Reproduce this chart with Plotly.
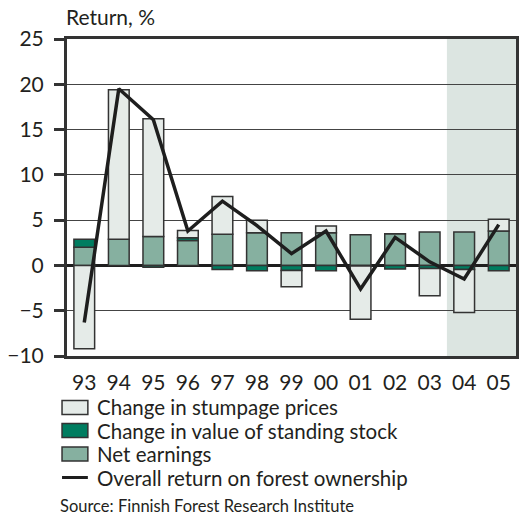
import plotly.graph_objects as go

# data (percent)
years = ["93", "94", "95", "96", "97", "98", "99", "00", "01", "02", "03", "04", "05"]
net_earnings = [2.0, 2.9, 3.2, 2.75, 3.45, 3.6, 3.6, 3.6, 3.4, 3.5, 3.7, 3.7, 3.8]
standing_stock = [0.9, 0.0, -0.2, 0.3, -0.45, -0.6, -0.55, -0.6, -0.05, -0.4, -0.35, -0.45, -0.6]
stumpage = [-9.2, 16.5, 13.0, 0.8, 4.15, 1.4, -1.8, 0.75, -5.9, 0.0, -3.0, -4.75, 1.3]
overall = [-6.3, 19.5, 16.1, 3.8, 7.1, 4.4, 1.3, 3.8, -2.6, 3.1, 0.4, -1.5, 4.5]

legend_labels = [
    "Change in stumpage prices",
    "Change in value of standing stock",
    "Net earnings",
    "Overall return on forest ownership",
]

C_STUMP = "#e5ebe8"
C_STOCK = "#007d60"
C_NET = "#86b0a0"
C_EDGE = "#333333"
FONT = "Lato"

W, H = 522, 517
L, R, T, B = 67, 3, 39, 161
PW, PH = W - L - R, H - T - B


def px_x(px):
    return (px - L) / PW


def px_y(py):
    return (H - B - py) / PH


fig = go.Figure()
bar_style = dict(marker_line_color=C_EDGE, marker_line_width=1.5, showlegend=False, hoverinfo="skip")
fig.add_bar(x=years, y=net_earnings, marker_color=C_NET, name=legend_labels[2], **bar_style)
fig.add_bar(x=years, y=standing_stock, marker_color=C_STOCK, name=legend_labels[1], **bar_style)
fig.add_bar(x=years, y=stumpage, marker_color=C_STUMP, name=legend_labels[0], **bar_style)
fig.add_scatter(x=years, y=overall, mode="lines", line=dict(color="#1e1e1e", width=3.5),
                name=legend_labels[3], showlegend=False)

# forecast shading for 04-05
fig.add_shape(type="rect", xref="x", yref="paper", x0=10.5, x1=12.5, y0=0, y1=1,
              fillcolor="#dce5e1", line_width=0, layer="below")

# hand-made legend
swatches = [C_STUMP, C_STOCK, C_NET]
rows = [407.5, 430.5, 454, 477.5]
for i, col in enumerate(swatches):
    fig.add_shape(type="rect", xref="paper", yref="paper",
                  x0=px_x(62), x1=px_x(88), y0=px_y(rows[i] - 7), y1=px_y(rows[i] + 7),
                  fillcolor=col, line=dict(color=C_EDGE, width=1.5))
fig.add_shape(type="line", xref="paper", yref="paper",
              x0=px_x(62), x1=px_x(88), y0=px_y(rows[3]), y1=px_y(rows[3]),
              line=dict(color="#1e1e1e", width=3))
for i, lab in enumerate(legend_labels):
    fig.add_annotation(text=lab, xref="paper", yref="paper", x=px_x(95), y=px_y(rows[i]),
                       xanchor="left", yanchor="middle", showarrow=False,
                       font=dict(family=FONT, size=20.5, color="#231f20"))

fig.add_annotation(text="Return, %", xref="paper", yref="paper", x=px_x(64), y=px_y(17),
                   xanchor="left", yanchor="middle", showarrow=False,
                   font=dict(family=FONT, size=21, color="#231f20"))
fig.add_annotation(text="Source: Finnish Forest Research Institute", xref="paper", yref="paper",
                   x=px_x(58), y=px_y(506), xanchor="left", yanchor="middle", showarrow=False,
                   font=dict(family=FONT, size=16.5, color="#231f20"))

fig.update_layout(
    width=W, height=H,
    margin=dict(l=L, r=R, t=T, b=B),
    barmode="relative", bargap=0.4,
    plot_bgcolor="white", paper_bgcolor="white",
    font=dict(family=FONT, size=21, color="#231f20"),
    showlegend=False,
)
fig.update_xaxes(type="category", range=[-0.5, 12.5], showgrid=False,
                 showline=True, linecolor=C_EDGE, linewidth=3, mirror=True,
                 ticks="", tickfont=dict(size=21), ticklabelstandoff=6)
fig.update_yaxes(range=[-10, 25], dtick=5, showgrid=True, gridcolor="#444444", gridwidth=1,
                 zeroline=True, zerolinecolor="#1e1e1e", zerolinewidth=3,
                 showline=True, linecolor=C_EDGE, linewidth=3, mirror=True,
                 ticks="outside", ticklen=10, tickwidth=2.5, tickcolor=C_EDGE,
                 tickfont=dict(size=21), ticklabelstandoff=6)

# drop the page's default body margin so the figure sits at the window's corner
fig.write_html("out.html", config={"displayModeBar": False},
               post_script="document.body.style.margin='0';")
